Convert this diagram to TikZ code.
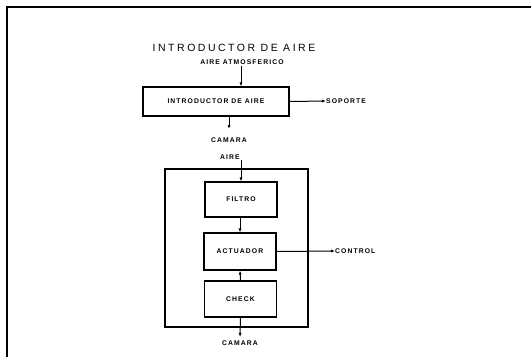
\documentclass[tikz,border=0pt]{standalone}
\usepackage{fontspec}
\setmainfont{Liberation Sans}
\usetikzlibrary{arrows.meta}
\newfontfamily\labelfont[LetterSpace=16]{Liberation Sans Bold}
\newfontfamily\titlefont[LetterSpace=24]{Liberation Sans}
\begin{document}
\begin{tikzpicture}[x=1pt,y=-1pt,
  blk/.style={draw,line width=1.1pt,minimum width=72pt,minimum height=35pt,inner sep=0pt,font=\labelfont\fontsize{6.8}{7}\selectfont},
  lbl/.style={inner sep=0pt,font=\labelfont\fontsize{6.8}{7}\selectfont},
  flow/.style={line width=1pt,-{Latex[length=4pt,width=3pt]}},
  frame/.style={line width=1.6pt}]
\useasboundingbox (0,0) rectangle (531,357);
% sheet frame
\draw[frame] (7,357) -- (7,7) -- (531,7);

% upper diagram
\node[inner sep=0pt,font=\titlefont\fontsize{10.5}{12}\selectfont] (title) at (234,48) {INTRODUCTOR DE AIRE};
\node[lbl] (atm) at (242,62) {AIRE ATMOSFERICO};
\node[blk,minimum width=146pt,minimum height=29pt] (intro) at (216,101.5) {INTRODUCTOR DE AIRE};
\node[lbl,anchor=west] (soporte) at (326,101) {SOPORTE};
\node[lbl] (cam1) at (229,140) {CAMARA};
\coordinate (inA) at (241,66);
\coordinate (outA) at (229,116);
\coordinate (outB) at (229,129);
\draw[flow] (inA) -- (inA |- intro.north);
\draw[flow] (intro.east) -- (soporte.west);
\draw[flow] (outA) -- (outB);

% lower diagram
\draw[line width=1.2pt] (165,169) rectangle (308,327);
\node[lbl] (aire) at (230,157) {AIRE};
\node[blk] (filtro) at (241,199.5) {FILTRO};
\node[blk,minimum height=37pt] (act) at (240,251.5) {ACTUADOR};
\node[blk,minimum height=36pt] (check) at (240.5,299) {CHECK};
\node[lbl,anchor=west] (control) at (335,251) {CONTROL};
\node[lbl] (cam2) at (240,343) {CAMARA};
\coordinate (inB) at (241,160);
\coordinate (midA) at (240,217);
\coordinate (outC) at (240,337);
\draw[flow] (inB) -- (filtro.north);
\draw[flow] (midA) -- (midA |- act.north);
\draw[flow] (check.north) -- (act.south);
\draw[flow] (act.east) -- (control.west);
\draw[flow] (check.south) -- (outC);
\end{tikzpicture}
\end{document}
